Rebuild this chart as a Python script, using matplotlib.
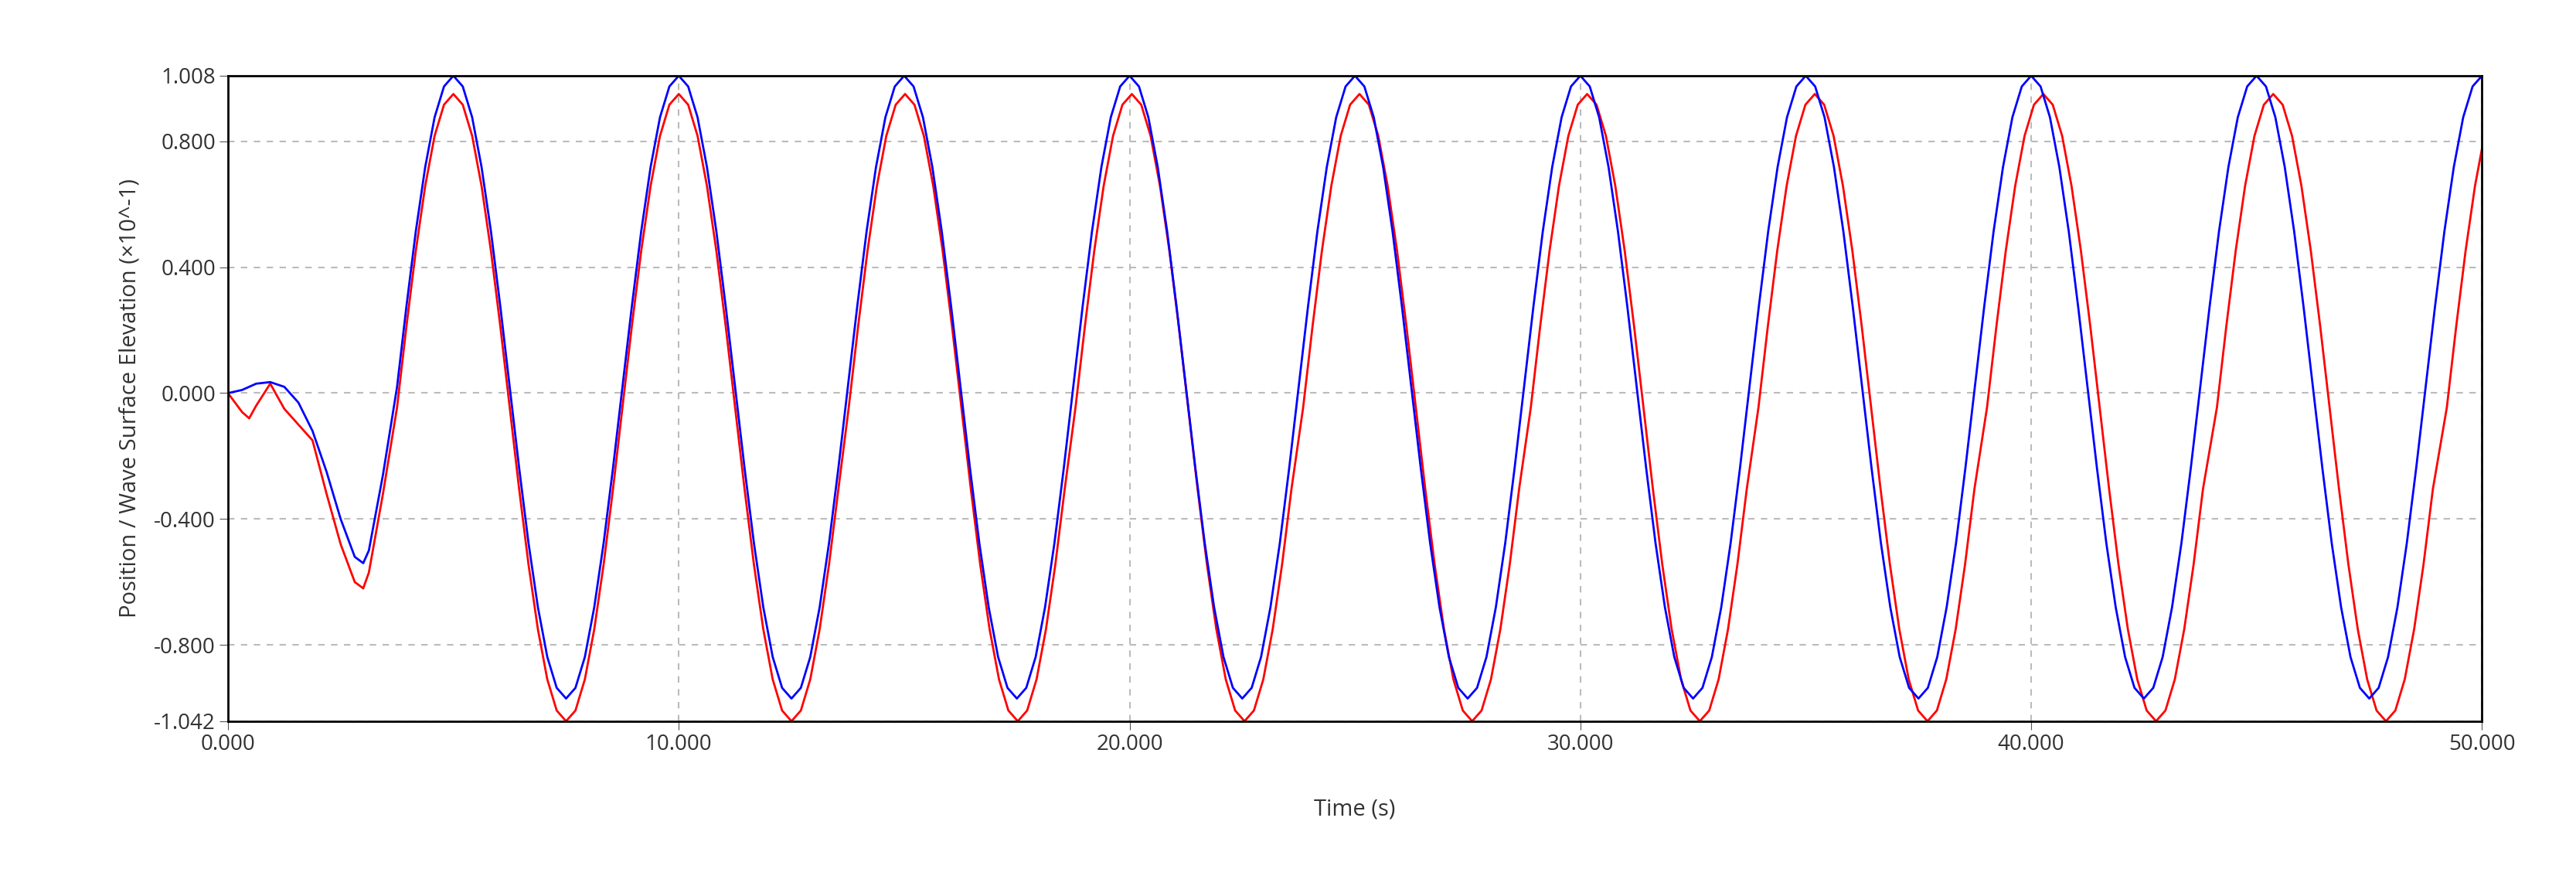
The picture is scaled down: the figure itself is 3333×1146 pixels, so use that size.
import matplotlib
matplotlib.use("Agg")
import matplotlib.pyplot as plt

plt.rcParams['font.family'] = ['Open Sans', 'DejaVu Sans']

# Early transient
blue_t0 = [0.0, 0.3125, 0.625, 0.9375, 1.25, 1.5625, 1.875, 2.1875, 2.5, 2.8125, 3.0, 3.125, 3.4375]
blue_v0 = [0.0, 0.01, 0.03, 0.035, 0.02, -0.03, -0.12, -0.25, -0.40, -0.52, -0.54, -0.50, -0.26]
red_t0 = [0.0, 0.3125, 0.47, 0.625, 0.9375, 1.25, 1.5625, 1.875, 2.1875, 2.5, 2.8125, 3.0, 3.125, 3.4375]
red_v0 = [0.0, -0.06, -0.08, -0.04, 0.03, -0.05, -0.10, -0.15, -0.32, -0.48, -0.60, -0.62, -0.57, -0.32]

# One regular cycle sampled at 24 phases, starting at the rising zero crossing
blue_cycle = [0.019, 0.275, 0.514, 0.718, 0.876, 0.974, 1.008, 0.974, 0.876, 0.718, 0.514, 0.275,
              0.019, -0.237, -0.476, -0.680, -0.838, -0.936, -0.970, -0.936, -0.838, -0.680, -0.476, -0.237]
red_cycle = [-0.046, 0.212, 0.452, 0.658, 0.817, 0.916, 0.950, 0.916, 0.817, 0.658, 0.452, 0.212,
             -0.046, -0.304, -0.544, -0.750, -0.909, -1.008, -1.042, -1.008, -0.909, -0.750, -0.544, -0.304]
# rising-crossing times of each cycle
blue_starts = [3.75, 8.75, 13.75, 18.75, 23.75, 28.75, 33.75, 38.75, 43.75, 48.75]
red_starts = [3.75, 8.75, 13.77, 18.80, 23.85, 28.90, 33.95, 39.02, 44.12, 49.22]
period = 5.0

def build(t0, v0, starts, cycle):
    t = list(t0); v = list(v0)
    n = len(cycle)
    for s in starts:
        for j, val in enumerate(cycle):
            t.append(s + j * period / n); v.append(val)
    t.append(starts[-1] + period); v.append(cycle[0])
    return t, v

bt, bv = build(blue_t0, blue_v0, blue_starts, blue_cycle)
rt, rv = build(red_t0, red_v0, red_starts, red_cycle)

fig = plt.figure(figsize=(33.33, 11.46), dpi=100)
ax = fig.add_axes([0.0885, 1 - 0.814, 0.9635 - 0.0885, 0.814 - 0.0855])
ax.plot(rt, rv, color='red', lw=2.0)
ax.plot(bt, bv, color='blue', lw=2.0)
ax.set_xlim(0, 50)
ax.set_ylim(-1.042, 1.008)
yt = [-1.042, -0.8, -0.4, 0.0, 0.4, 0.8, 1.008]
ax.set_yticks(yt)
ax.set_yticklabels([f"{v:.3f}" for v in yt])
xt = [0, 10, 20, 30, 40, 50]
ax.set_xticks(xt)
ax.set_xticklabels([f"{v:.3f}" for v in xt])
ax.tick_params(labelsize=20, length=8, color='#555555', labelcolor='#333333')
ax.grid(True, ls=(0, (4, 4)), color='#bbbbbb', lw=1.5)
for sp in ax.spines.values():
    sp.set_linewidth(2)
ax.set_xlabel("Time (s)", fontsize=21, color='#333333', labelpad=40)
ax.set_ylabel("Position / Wave Surface Elevation (×10^-1)", fontsize=21, color='#333333', labelpad=12)
fig.savefig("out.png")
